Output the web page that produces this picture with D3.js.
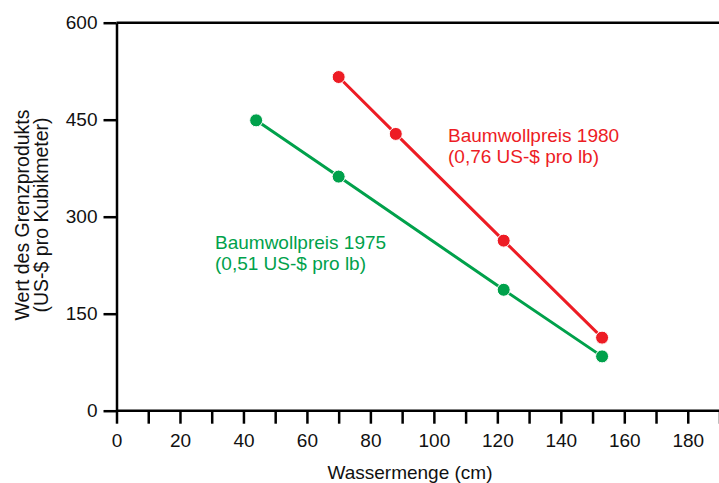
<!DOCTYPE html>
<html>
<head>
<meta charset="utf-8">
<script src="https://cdn.jsdelivr.net/npm/d3@7"></script>
<style>
  body { margin: 0; background: #fff; }
  svg text { font-family: "Liberation Sans", Arial, Helvetica, sans-serif; }
</style>
</head>
<body>
<div id="chart"></div>
<script>
var width = 719,
    height = 483;

// Baumwollpreis 1975
var water1975 = [44, 70, 122, 153];
var value1975 = [449, 362, 187, 84];
// Baumwollpreis 1980
var water1980 = [70, 88, 122, 153];
var value1980 = [516, 428, 263, 113];

var xTicks = d3.range(0, 191, 10);
var yTicks = [0, 150, 300, 450, 600];

var red = "#ed1c24",
    green = "#00a14b";
var fs = 19;

var x = d3.scaleLinear().domain([0, 190]).range([116.5, 719.5]);
var y = d3.scaleLinear().domain([0, 600]).range([410.7, 22.7]);

var svg = d3.select("#chart").append("svg")
    .attr("width", width)
    .attr("height", height);

// top frame line at 600
svg.append("line")
  .attr("x1", x(0)).attr("x2", width)
  .attr("y1", y(600)).attr("y2", y(600))
  .attr("stroke", "#000").attr("stroke-width", 2.5);

var xAxis = svg.append("g")
    .attr("transform", "translate(0," + y(0) + ")")
    .call(d3.axisBottom(x)
      .tickValues(xTicks)
      .tickSize(13)
      .tickSizeOuter(0)
      .tickPadding(10)
      .tickFormat(function(d) { return (d % 20 === 0 && d <= 180) ? d : ""; }));

var yAxis = svg.append("g")
    .attr("transform", "translate(" + x(0) + ",0)")
    .call(d3.axisLeft(y)
      .tickValues(yTicks)
      .tickSize(13)
      .tickSizeOuter(0)
      .tickPadding(6));

[xAxis, yAxis].forEach(function(g) {
  g.selectAll("path, line").attr("stroke", "#000").attr("stroke-width", 2.5);
  g.selectAll("text").attr("font-size", fs).attr("fill", "#111")
    .style("font-family", '"Liberation Sans", Arial, sans-serif');
});
xAxis.select(".domain").attr("d", "M" + x(0) + ",0H" + width);

var line = d3.line()
    .x(function(d) { return x(d[0]); })
    .y(function(d) { return y(d[1]); });

function drawSeries(xs, ys, color) {
  var pts = xs.map(function(v, i) { return [v, ys[i]]; });
  svg.append("path")
    .attr("d", line(pts))
    .attr("fill", "none")
    .attr("stroke", color)
    .attr("stroke-width", 3);
  svg.selectAll(null).data(pts).enter().append("circle")
    .attr("cx", function(d) { return x(d[0]); })
    .attr("cy", function(d) { return y(d[1]); })
    .attr("r", 6.5)
    .attr("fill", color)
    .attr("stroke", "#fff")
    .attr("stroke-width", 1);
}

drawSeries(water1975, value1975, green);
drawSeries(water1980, value1980, red);

function label(xp, yp, lines, color) {
  var t = svg.append("text")
    .attr("x", xp).attr("y", yp)
    .attr("font-size", fs)
    .attr("fill", color);
  lines.forEach(function(s, i) {
    t.append("tspan").attr("x", xp).attr("dy", i === 0 ? 0 : 21).text(s);
  });
}

label(448, 142, ["Baumwollpreis 1980", "(0,76 US-$ pro lb)"], red);
label(215, 249, ["Baumwollpreis 1975", "(0,51 US-$ pro lb)"], green);

// axis titles
svg.append("text")
  .attr("x", 410).attr("y", 479)
  .attr("text-anchor", "middle")
  .attr("font-size", fs)
  .attr("fill", "#111")
  .text("Wassermenge (cm)");

var yt = svg.append("text")
  .attr("transform", "translate(29,215) rotate(-90)")
  .attr("text-anchor", "middle")
  .attr("font-size", 19.5)
  .attr("fill", "#111");
yt.append("tspan").attr("x", 0).attr("y", 0).text("Wert des Grenzprodukts");
yt.append("tspan").attr("x", 0).attr("y", 19).text("(US-$ pro Kubikmeter)");
</script>
</body>
</html>
